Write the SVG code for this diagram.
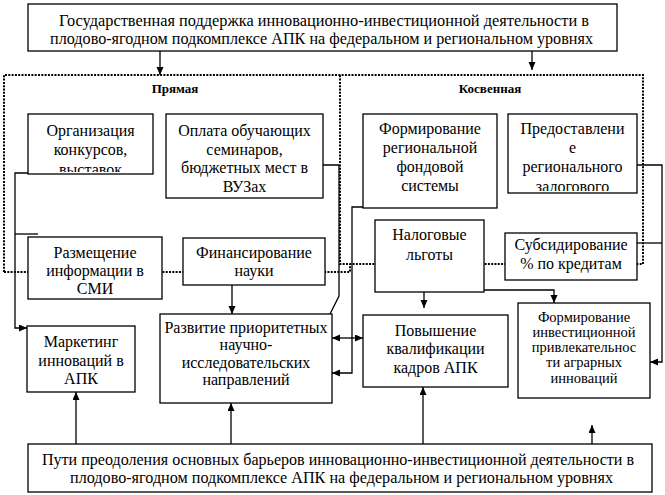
<svg xmlns="http://www.w3.org/2000/svg" width="665" height="495" viewBox="0 0 665 495">
<style>
.bx{fill:#fff;stroke:#000;stroke-width:1.3}
.t{font-family:'Liberation Serif','DejaVu Serif',serif;font-size:16px;fill:#000;text-anchor:middle}
.s{font-size:14.5px}
.h{font-family:'Liberation Serif','DejaVu Serif',serif;font-size:13px;font-weight:bold;fill:#000;text-anchor:middle}
.dot{fill:none;stroke:#000;stroke-width:2;stroke-dasharray:2 1.3}
.ln{fill:none;stroke:#000;stroke-width:1.3}
.ar{marker-end:url(#a)}
</style>
<defs>
<marker id="a" markerUnits="userSpaceOnUse" markerWidth="9" markerHeight="8" refX="8" refY="3.5" orient="auto-start-reverse">
<path d="M0,0 L8,3.5 L0,7 z" fill="#000"/>
</marker>
<clipPath id="c1"><rect x="28" y="114" width="125" height="58"/></clipPath>
<clipPath id="c2"><rect x="508" y="114" width="129" height="77"/></clipPath>
</defs>

<g id="frames">
<path class="dot" d="M4,272 V75 H643 V264 H340 V75"/>
<path class="dot" d="M4,272 H350 V264"/>
</g>
<g id="headings">
<text class="h" x="175" y="93">Прямая</text>
<text class="h" x="490" y="93">Косвенная</text>
</g>

<g id="connectors">
<path class="ln ar" d="M160,51 V75"/>
<path class="ln ar" d="M532,51 V70"/>
<path class="ln ar" d="M28,173 H15 V328 H27"/>
<path class="ln" d="M15,234 H38"/>
<path class="ln" d="M323,165 H339 V296 L329,316"/>
<path class="ln ar" d="M363,207 H352 V373 H332"/>
<path class="ln ar" d="M332,338 H363" marker-start="url(#a)"/>
<path class="ln ar" d="M232,285 V314"/>
<path class="ln ar" d="M424,280 V308"/>
<path class="ln ar" d="M484,290 H554 V303"/>
<path class="ln ar" d="M637,165 H662 V362 H650"/>
<path class="ln" d="M637,243 H662"/>
<path class="ln ar" d="M76,444 V392"/>
<path class="ln ar" d="M231,444 V403"/>
<path class="ln ar" d="M423,444 V387"/>
<path class="ln ar" d="M592,444 V425"/>
</g>

<g id="top">
<rect class="bx" x="28" y="4" width="589" height="47"/>
<text class="t" x="324" y="26" textLength="530" lengthAdjust="spacingAndGlyphs">Государственная поддержка инновационно-инвестиционной  деятельности в</text>
<text class="t" x="321.5" y="44" textLength="543" lengthAdjust="spacingAndGlyphs">плодово-ягодном подкомплексе  АПК на федеральном и региональном уровнях</text>
</g>

<g id="org">
<rect class="bx" x="28" y="114" width="125" height="60"/>
<g clip-path="url(#c1)">
<text class="t" x="90.5" y="136">Организация</text>
<text class="t" x="90.5" y="155">конкурсов,</text>
<text class="t" x="90.5" y="175">выставок</text>
</g>
</g>

<g id="oplata">
<rect class="bx" x="166" y="114" width="157" height="84"/>
<text class="t" x="244.5" y="136">Оплата обучающих</text>
<text class="t" x="244.5" y="154.5">семинаров,</text>
<text class="t" x="244.5" y="173">бюджетных мест в</text>
<text class="t" x="244.5" y="191.5">ВУЗах</text>
</g>

<g id="razm">
<rect class="bx" x="28" y="237" width="134" height="62"/>
<text class="t" x="95" y="258">Размещение</text>
<text class="t" x="95" y="276">информации в</text>
<text class="t" x="95" y="294">СМИ</text>
</g>

<g id="finans">
<rect class="bx" x="183" y="238" width="142" height="47"/>
<text class="t" x="254" y="258">Финансирование</text>
<text class="t" x="254" y="276">науки</text>
</g>

<g id="fond">
<rect class="bx" x="363" y="114" width="134" height="94"/>
<text class="t" x="430" y="134">Формирование</text>
<text class="t" x="430" y="153">региональной</text>
<text class="t" x="430" y="172">фондовой</text>
<text class="t" x="430" y="191">системы</text>
</g>

<g id="zalog">
<rect class="bx" x="508" y="114" width="129" height="79"/>
<g clip-path="url(#c2)">
<text class="t" x="572.5" y="134">Предоставлени</text>
<text class="t" x="572.5" y="153">е</text>
<text class="t" x="572.5" y="172">регионального</text>
<text class="t" x="572.5" y="192">залогового</text>
</g>
</g>

<g id="nalog">
<rect class="bx" x="375" y="220" width="109" height="72"/>
<text class="t" x="429.5" y="240">Налоговые</text>
<text class="t" x="429.5" y="260">льготы</text>
</g>

<g id="subs">
<rect class="bx" x="505" y="233" width="132" height="47"/>
<text class="t" x="571" y="250">Субсидирование</text>
<text class="t" x="571" y="269">% по кредитам</text>
</g>

<g id="market">
<rect class="bx" x="27" y="326" width="108" height="66"/>
<text class="t" x="81" y="347">Маркетинг</text>
<text class="t" x="81" y="366">инноваций в</text>
<text class="t" x="81" y="384">АПК</text>
</g>

<g id="razvitie">
<rect class="bx" x="160" y="314" width="172" height="89"/>
<text class="t" x="246" y="333">Развитие приоритетных</text>
<text class="t" x="246" y="350">научно-</text>
<text class="t" x="246" y="368">исследовательских</text>
<text class="t" x="246" y="385">направлений</text>
</g>

<g id="kadry">
<rect class="bx" x="363" y="315" width="145" height="72"/>
<text class="t" x="435.5" y="336">Повышение</text>
<text class="t" x="435.5" y="354">квалификации</text>
<text class="t" x="435.5" y="373">кадров АПК</text>
</g>

<g id="invest">
<rect class="bx" x="518" y="303" width="132" height="95"/>
<text class="t s" x="584" y="322">Формирование</text>
<text class="t s" x="584" y="337">инвестиционной</text>
<text class="t s" x="584" y="352">привлекательнос</text>
<text class="t s" x="584" y="367">ти аграрных</text>
<text class="t s" x="584" y="383">инноваций</text>
</g>

<g id="bottom">
<rect class="bx" x="28" y="444" width="624" height="48"/>
<text class="t" x="338" y="465" textLength="592" lengthAdjust="spacingAndGlyphs">Пути преодоления основных барьеров инновационно-инвестиционной  деятельности в</text>
<text class="t" x="341.5" y="483" textLength="543" lengthAdjust="spacingAndGlyphs">плодово-ягодном подкомплексе  АПК на федеральном и региональном уровнях</text>
</g>
</svg>
